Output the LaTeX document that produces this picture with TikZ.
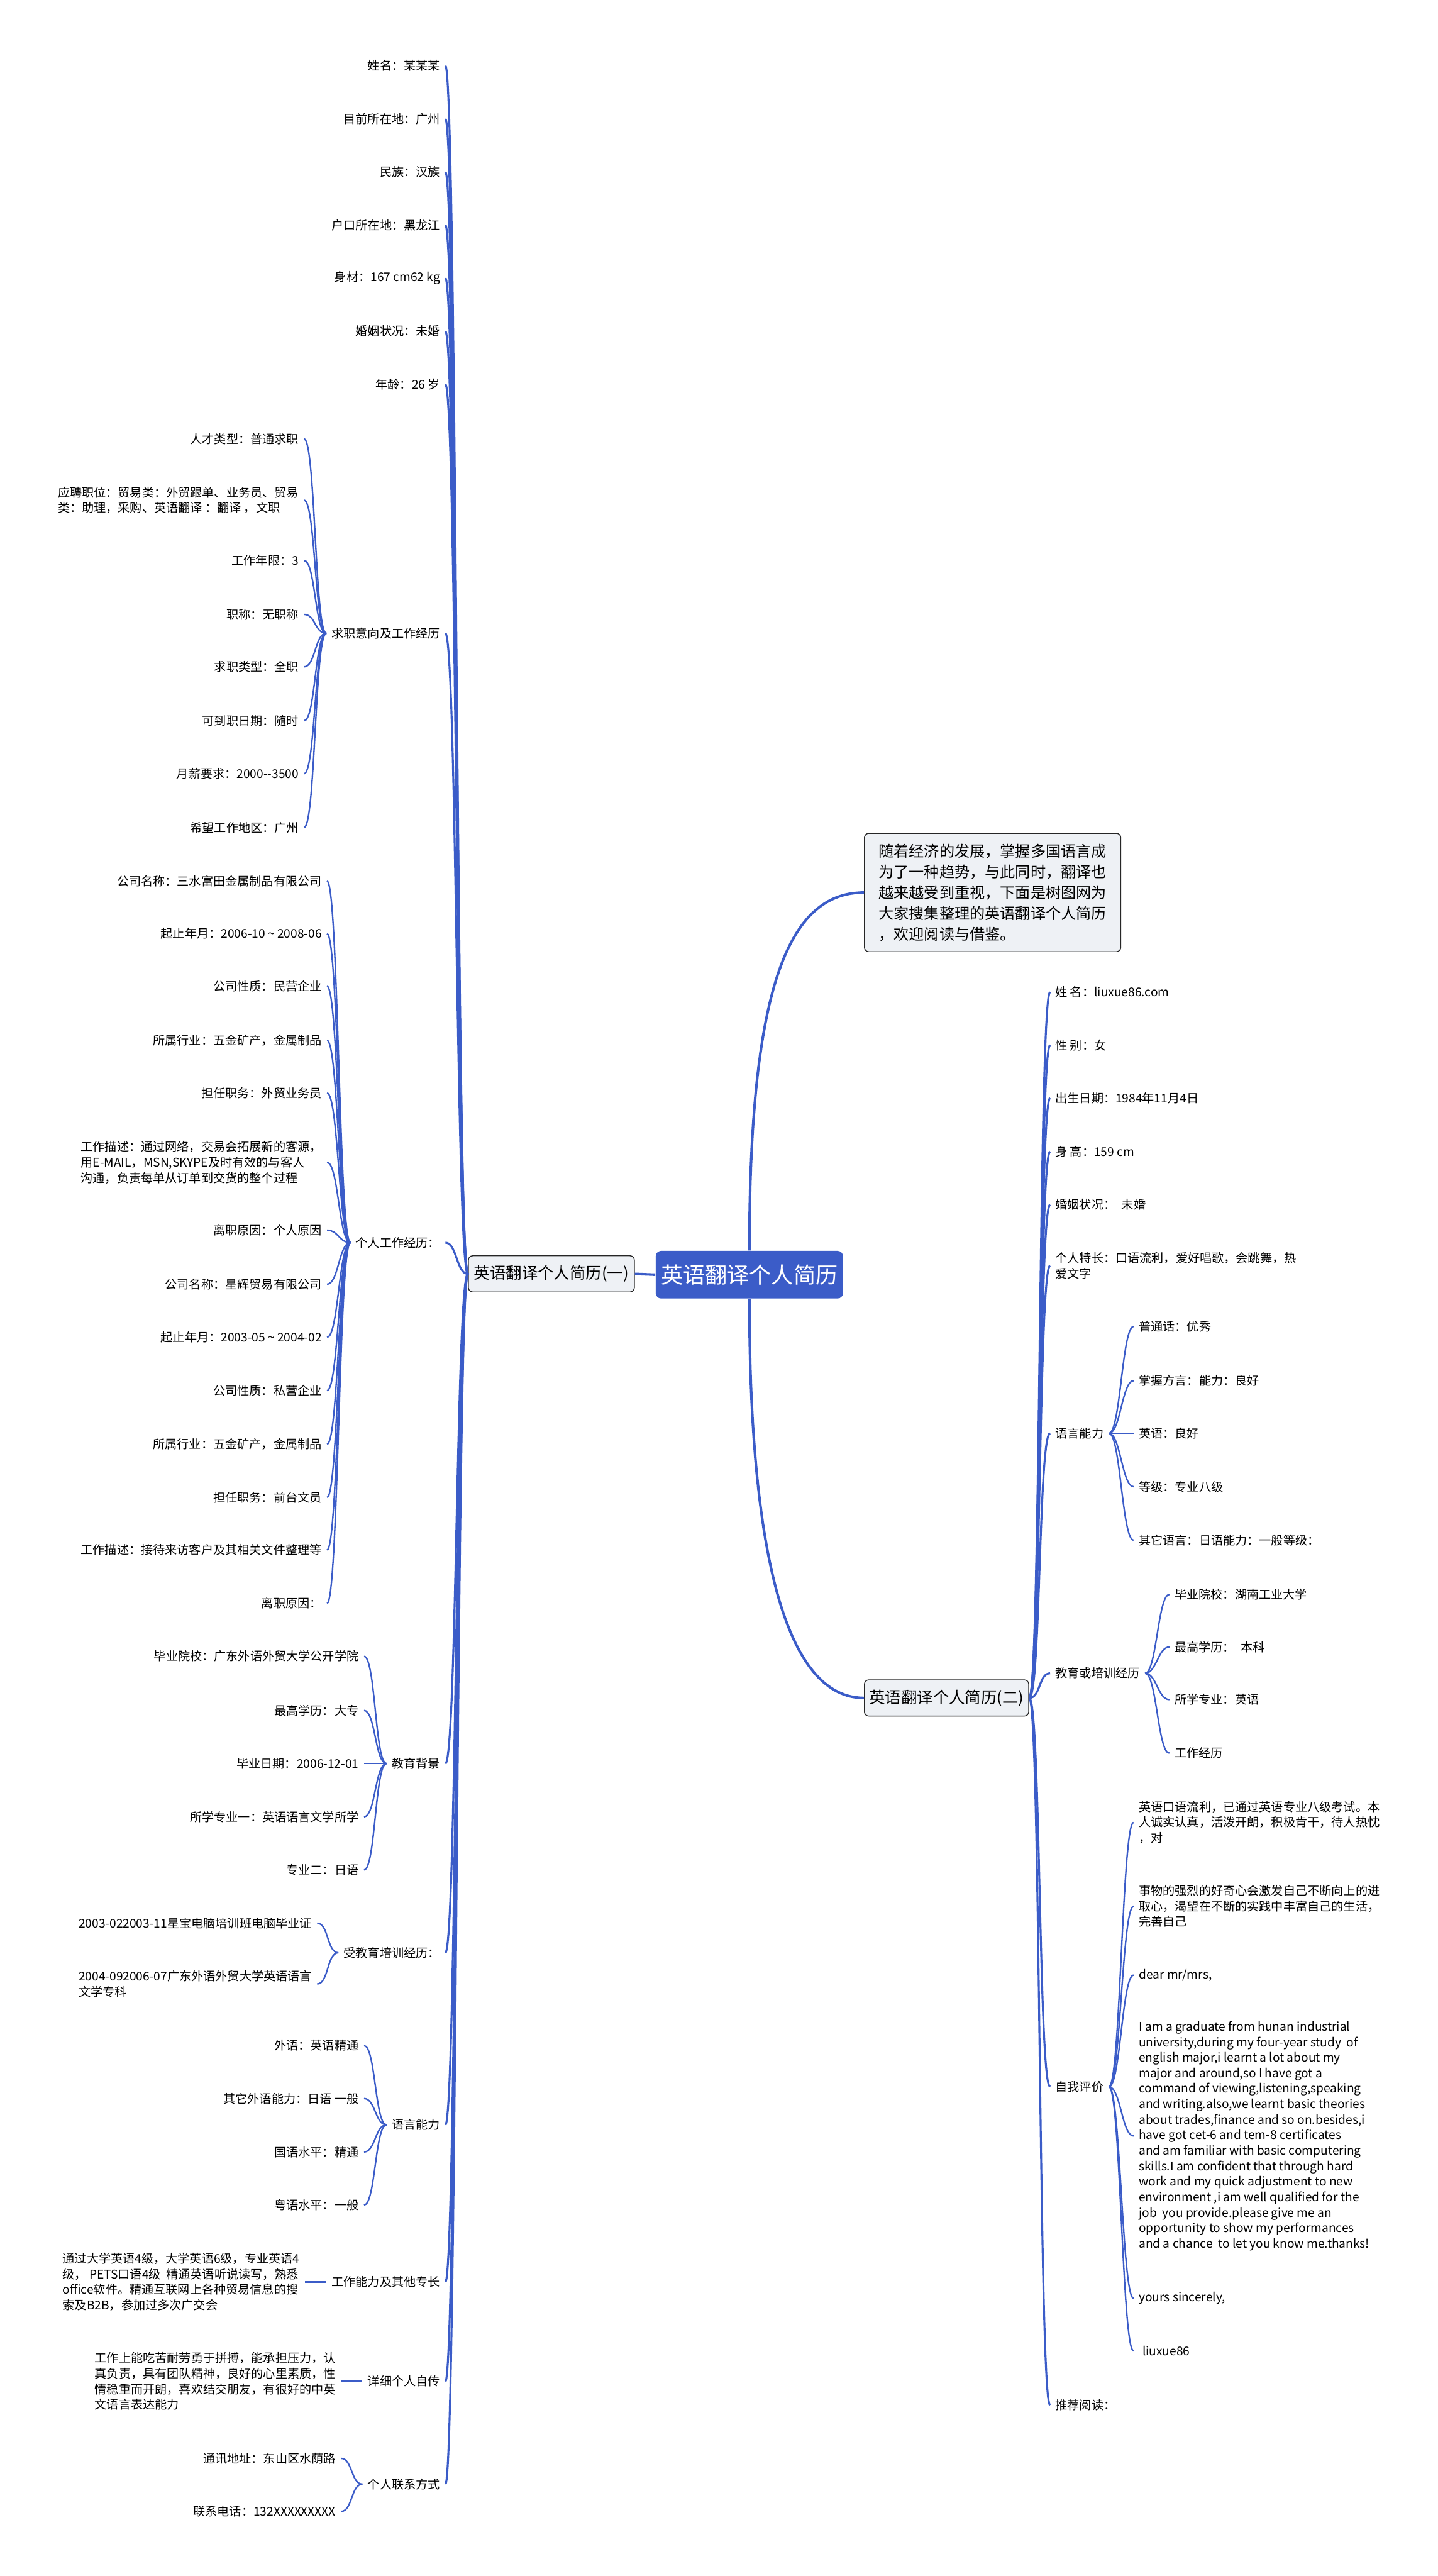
\documentclass[tikz,border=0pt]{standalone}
\usepackage{fontspec}
\setmainfont{Noto Sans CJK SC}

\definecolor{mapblue}{HTML}{3B5CC8}
\definecolor{boxgray}{HTML}{EEF1F5}
\newlength\spx
\setlength\spx{0.2926mm}

\tikzset{
  leaf/.style={font=\fontsize{6.1}{7.85}\selectfont, inner xsep=2.5pt, inner ysep=1pt},
  lleaf/.style={leaf, anchor=east, align=left},
  rleaf/.style={leaf, anchor=west, align=left},
  branchbox/.style={draw=black!85, fill=boxgray, rounded corners=2.2pt, line width=0.45pt,
    font=\fontsize{8.1}{10}\selectfont, inner sep=0pt, minimum height=22\spx},
  rootbox/.style={fill=mapblue, text=white, rounded corners=2.8pt, inner sep=0pt,
    font=\fontsize{11.2}{14}\selectfont, minimum width=114\spx, minimum height=29\spx},
  introbox/.style={branchbox, font=\fontsize{7.7}{10.5}\selectfont, align=left,
    minimum width=156\spx, minimum height=72\spx},
  trunk/.style={draw=mapblue, line width=1.3pt},
  limb/.style={draw=mapblue, line width=1pt},
  twig/.style={draw=mapblue, line width=0.75pt}
}

\begin{document}
\begin{tikzpicture}[x=0.2926mm, y=-0.2926mm]
  \useasboundingbox (0,0) rectangle (875,1567.2);

  % Wurzel und Hauptzweige
  \node[rootbox] (root) at (456,775.5) {英语翻译个人简历};
  \node[branchbox, minimum width=101\spx] (b1) at (335.5,775) {英语翻译个人简历(一)};
  \node[branchbox, minimum width=100\spx] (b2) at (576,1033) {英语翻译个人简历(二)};
  \node[introbox] (intro) at (604,543) {随着经济的发展，掌握多国语言成\\为了一种趋势，与此同时，翻译也\\越来越受到重视，下面是树图网为\\大家搜集整理的英语翻译个人简历\\，欢迎阅读与借鉴。};

  \draw[trunk] (root.west) -- (b1.east);
  \draw[trunk] (root.north) .. controls +(0,-160) and +(-46,0) .. (intro.west);
  \draw[trunk] (root.south) .. controls +(0,160) and +(-46,0) .. (b2.west);

  % Zweig (一)
  \foreach \n/\y/\t in {a1/40/{姓名：某某某}, a2/72.3/{目前所在地：广州}, a3/104.6/{民族：汉族},
      a4/136.9/{户口所在地：黑龙江}, a5/169.2/{身材：167 cm62 kg}, a6/201.5/{婚姻状况：未婚},
      a7/233.8/{年龄：26 岁}, q/385.3/{求职意向及工作经历}, w/756/{个人工作经历：},
      e/1072.9/{教育背景}, t/1188/{受教育培训经历：}, l/1292.7/{语言能力},
      s/1388.3/{工作能力及其他专长}, d/1448.8/{详细个人自传}, c/1511.3/{个人联系方式}} {
    \node[lleaf] (\n) at (271,\y) {\t};
    \draw[limb] (b1.west) .. controls +(-7,0) and +(7,0) .. (\n.east);
  }

  %求职意向及工作经历
  \foreach \n/\y/\t in {q1/267/{人才类型：普通求职},
      q2/304.3/{应聘职位：贸易类：外贸跟单、业务员、贸易\\类：助理，采购、英语翻译 ：翻译 ，文职},
      q3/341/{工作年限：3}, q4/373.8/{职称：无职称}, q5/405.7/{求职类型：全职},
      q6/438.5/{可到职日期：随时}, q7/470.7/{月薪要求：2000-{}-3500}, q8/503.5/{希望工作地区：广州}} {
    \node[lleaf] (\n) at (185,\y) {\t};
    \draw[twig] (q.west) .. controls +(-7,0) and +(7,0) .. (\n.east);
  }

  % 个人工作经历
  \foreach \n/\y/\t in {w1/536/{公司名称：三水富田金属制品有限公司},
      w2/568/{起止年月：2006-10 {\textasciitilde} 2008-06}, w3/600/{公司性质：民营企业},
      w4/633/{所属行业：五金矿产，金属制品}, w5/665/{担任职务：外贸业务员},
      w6/707.2/{工作描述：通过网络，交易会拓展新的客源，\\用E-MAIL，MSN,SKYPE及时有效的与客人\\沟通，负责每单从订单到交货的整个过程},
      w7/748.4/{离职原因：个人原因}, w8/781.3/{公司名称：星辉贸易有限公司},
      w9/813.6/{起止年月：2003-05 {\textasciitilde} 2004-02}, w10/846/{公司性质：私营企业},
      w11/878.6/{所属行业：五金矿产，金属制品}, w12/911/{担任职务：前台文员},
      w13/943/{工作描述：接待来访客户及其相关文件整理等}, w14/975.5/{离职原因：}} {
    \node[lleaf] (\n) at (199,\y) {\t};
    \draw[twig] (w.west) .. controls +(-7,0) and +(7,0) .. (\n.east);
  }

  % 教育背景
  \foreach \n/\y/\t in {e1/1007.7/{毕业院校：广东外语外贸大学公开学院}, e2/1040.6/{最高学历：大专},
      e3/1072.9/{毕业日期：2006-12-01}, e4/1105.3/{所学专业一：英语语言文学所学},
      e5/1137.6/{专业二：日语}} {
    \node[lleaf] (\n) at (221.5,\y) {\t};
    \draw[twig] (e.west) .. controls +(-7,0) and +(7,0) .. (\n.east);
  }

  % 受教育培训经历
  \foreach \n/\y/\t in {t1/1170/{2003-022003-11星宝电脑培训班电脑毕业证},
      t2/1207/{2004-092006-07广东外语外贸大学英语语言\\文学专科}} {
    \node[lleaf] (\n) at (193,\y) {\t};
    \draw[twig] (t.west) .. controls +(-7,0) and +(7,0) .. (\n.east);
  }

  % 语言能力
  \foreach \n/\y/\t in {l1/1244.5/{外语：英语精通}, l2/1276.7/{其它外语能力：日语 一般},
      l3/1309.2/{国语水平：精通}, l4/1341.5/{粤语水平：一般}} {
    \node[lleaf] (\n) at (221.5,\y) {\t};
    \draw[twig] (l.west) .. controls +(-7,0) and +(7,0) .. (\n.east);
  }

  % Einzelblaetter
  \node[lleaf] (s1) at (185.5,1388.3) {通过大学英语4级，大学英语6级，专业英语4\\级， PETS口语4级\ \ 精通英语听说读写，熟悉\\office软件。精通互联网上各种贸易信息的搜\\索及B2B，参加过多次广交会};
  \draw[twig] (s.west) -- (s1.east);
  \node[lleaf] (d1) at (207.5,1448.8) {工作上能吃苦耐劳勇于拼搏，能承担压力，认\\真负责，具有团队精神，良好的心里素质，性\\情稳重而开朗，喜欢结交朋友，有很好的中英\\文语言表达能力};
  \draw[twig] (d.west) -- (d1.east);

  % 个人联系方式
  \foreach \n/\y/\t in {c1/1495.6/{通讯地址：东山区水荫路}, c2/1527.9/{联系电话：132XXXXXXXXX}} {
    \node[lleaf] (\n) at (207.5,\y) {\t};
    \draw[twig] (c.west) .. controls +(-7,0) and +(7,0) .. (\n.east);
  }

  % Zweig (二)
  \foreach \n/\y/\t in {r1/603.6/{姓 名：liuxue86.com}, r2/635.8/{性 别：女},
      r3/668/{出生日期：1984年11月4日}, r4/700.6/{身 高：159 cm},
      r5/732.9/{婚姻状况：\hspace{0.5em}未婚}, r6/770/{个人特长：口语流利，爱好唱歌，会跳舞，热\\爱文字},
      rl/872/{语言能力}, re/1018/{教育或培训经历}, rs/1269.5/{自我评价}, r7/1463.2/{推荐阅读：}} {
    \node[rleaf] (\n) at (639,\y) {\t};
    \draw[limb] (b2.east) .. controls +(7,0) and +(-7,0) .. (\n.west);
  }

  % 语言能力 rechts
  \foreach \n/\y/\t in {rl1/807/{普通话：优秀}, rl2/840/{掌握方言：能力：良好}, rl3/872/{英语：良好},
      rl4/904.5/{等级：专业八级}, rl5/937/{其它语言：日语能力：一般等级：}} {
    \node[rleaf] (\n) at (689.8,\y) {\t};
    \draw[twig] (rl.east) .. controls +(7,0) and +(-7,0) .. (\n.west);
  }

  % 教育或培训经历
  \foreach \n/\y/\t in {re1/970/{毕业院校：湖南工业大学}, re2/1002/{最高学历：\hspace{0.5em}本科},
      re3/1034/{所学专业：英语}, re4/1066.6/{工作经历}} {
    \node[rleaf] (\n) at (711.6,\y) {\t};
    \draw[twig] (re.east) .. controls +(7,0) and +(-7,0) .. (\n.west);
  }

  % 自我评价
  \foreach \n/\y/\t in {rs1/1108.7/{英语口语流利，已通过英语专业八级考试。本\\人诚实认真，活泼开朗，积极肯干，待人热忱\\，对},
      rs2/1159.7/{事物的强烈的好奇心会激发自己不断向上的进\\取心，渴望在不断的实践中丰富自己的生活，\\完善自己},
      rs3/1201.6/{dear mr/mrs,},
      rs4/1299.5/{I am a graduate from hunan industrial\\university,during my four-year study\ \ of\\english major,i learnt a lot about my\\major and around,so I have got a\\command of viewing,listening,speaking\\and writing.also,we learnt basic theories\\about trades,finance and so on.besides,i\\have got cet-6 and tem-8 certificates\\and am familiar with basic computering\\skills.I am confident that through hard\\work and my quick adjustment to new\\environment ,i am well qualified for the\\job\ \ you provide.please give me an\\opportunity to show my performances\\and a chance\ \ to let you know me.thanks!},
      rs5/1398.3/{yours sincerely,}, rs6/1430.3/{\hspace{1.8pt}liuxue86}} {
    \node[rleaf] (\n) at (689.8,\y) {\t};
    \draw[twig] (rs.east) .. controls +(7,0) and +(-7,0) .. (\n.west);
  }
\end{tikzpicture}
\end{document}
